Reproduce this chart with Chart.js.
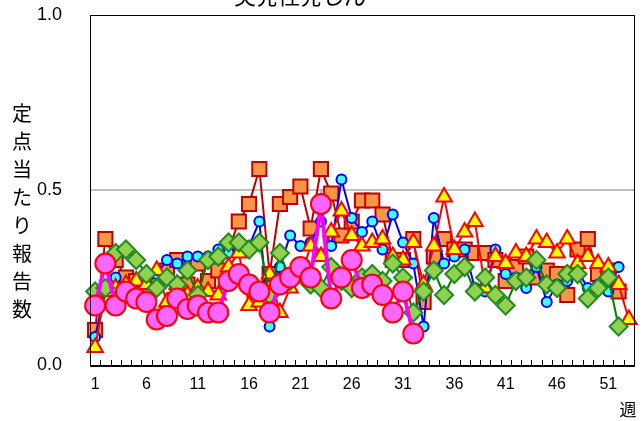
<!DOCTYPE html>
<html lang="ja">
<head>
<meta charset="UTF-8" />
<title>突発性発しん</title>
<style>
  html, body { margin: 0; padding: 0; background: #fff; overflow: hidden; }
  .wrap { position: relative; width: 642px; height: 421px; }
</style>
</head>
<body>
<div class="wrap">
  <canvas id="chart" role="img" aria-label="突発性発しん 定点当たり報告数"></canvas>
</div>

<script src="https://cdn.jsdelivr.net/npm/chart.js"></script>
<script>
  // 週（カテゴリ）
  const weeks = ['1','2','3','4','5','6','7','8','9','10','11','12','13','14','15','16','17','18',
    '19','20','21','22','23','24','25','26','27','28','29','30','31','32','33','34','35','36',
    '37','38','39','40','41','42','43','44','45','46','47','48','49','50','51','52','53'];
  const shownWeeks = ['1','6','11','16','21','26','31','36','41','46','51'];
  const yTicks = [0, 0.5, 1.0];

  // 各年の定点当たり報告数
  const seriesBlue = [0.08,0.22,0.25,0.22,0.21,0.23,0.26,0.30,0.29,0.31,0.31,0.31,0.33,0.32,0.33,0.34,
    0.41,0.11,0.28,0.37,0.34,0.35,0.41,0.34,0.53,0.42,0.38,0.41,0.33,0.43,0.35,0.29,0.11,0.42,
    0.29,0.31,0.33,0.22,0.21,0.33,0.26,0.25,0.22,0.28,0.18,0.23,0.24,0.27,0.22,0.23,0.21,0.28];
  const seriesOrange = [0.10,0.36,0.30,0.25,0.24,0.22,0.25,0.27,0.30,0.23,0.29,0.24,0.27,0.33,0.41,0.46,
    0.56,0.26,0.46,0.48,0.51,0.39,0.56,0.49,0.37,0.41,0.47,0.47,0.43,0.30,0.30,0.36,0.18,0.31,
    0.36,0.33,0.33,0.32,0.32,0.30,0.24,0.28,0.31,0.25,0.27,0.26,0.20,0.33,0.36,0.26,0.27,0.21];
  const seriesYellow = [0.05,0.21,0.22,0.23,0.24,0.23,0.27,0.18,0.23,0.20,0.22,0.21,0.20,0.28,0.32,0.17,
    0.18,0.26,0.15,0.22,0.25,0.34,0.31,0.38,0.44,0.37,0.34,0.35,0.36,0.31,0.30,0.35,0.23,0.34,
    0.48,0.33,0.38,0.41,0.22,0.31,0.29,0.32,0.31,0.36,0.35,0.32,0.36,0.29,0.31,0.29,0.28,0.23,0.13];
  const seriesGreen = [0.21,0.22,0.32,0.33,0.30,0.26,0.22,0.25,0.23,0.27,0.20,0.30,0.31,0.35,0.35,0.33,
    0.35,0.20,0.32,0.24,0.26,0.23,0.22,0.28,0.24,0.22,0.25,0.26,0.24,0.29,0.25,0.15,0.21,0.27,
    0.20,0.26,0.28,0.21,0.25,0.20,0.17,0.24,0.25,0.30,0.23,0.22,0.26,0.26,0.19,0.22,0.25,0.11];
  const seriesMagenta = [0.17,0.29,0.17,0.21,0.19,0.18,0.13,0.14,0.19,0.16,0.17,0.15,0.15,0.24,0.26,0.23,
    0.21,0.15,0.23,0.25,0.28,0.25,0.46,0.19,0.25,0.30,0.22,0.23,0.20,0.15,0.21,0.09];

  const titleText = '突発性発しん';
  const yTitle = '定点当たり報告数';

  // 枠・内向き目盛・タイトルなど
  const decorations = {
    id: 'decorations',
    beforeDatasetsDraw(chart) {
      const { ctx, chartArea: a, scales: { x } } = chart;
      ctx.save();
      ctx.strokeStyle = '#000';
      ctx.lineWidth = 1;
      // 週の区切り目盛（内向き）
      const step = (a.right - a.left) / weeks.length;
      ctx.beginPath();
      for (let i = 1; i < weeks.length; i++) {
        const px = Math.round(x.getPixelForValue(i) - step / 2) + 0.5;
        ctx.moveTo(px, a.bottom);
        ctx.lineTo(px, a.bottom - 5);
      }
      ctx.stroke();
      ctx.restore();
    },
    afterDraw(chart) {
      const { ctx, chartArea: a } = chart;
      ctx.save();
      ctx.strokeStyle = '#000';
      ctx.lineWidth = 1;
      ctx.strokeRect(Math.round(a.left) + 0.5, Math.round(a.top) + 0.5,
        Math.round(a.right - a.left), Math.round(a.bottom - a.top));
      ctx.lineWidth = 2;
      ctx.beginPath();
      ctx.moveTo(a.left, Math.round(a.bottom) + 1);
      ctx.lineTo(a.right + 1, Math.round(a.bottom) + 1);
      ctx.stroke();

      ctx.fillStyle = '#000';
      ctx.textAlign = 'center';
      ctx.textBaseline = 'middle';
      ctx.font = '22px "Noto Sans CJK JP"';
      ctx.fillText(titleText, 300, -4);

      ctx.font = '20px "Noto Sans CJK JP"';
      [...yTitle].forEach((ch, i) => ctx.fillText(ch, 22, 113 + i * 28));

      ctx.font = '17px "Noto Sans CJK JP"';
      ctx.fillText('週', 628, 410);
      ctx.restore();
    }
  };

  const common = { borderWidth: 2, pointBorderWidth: 2, fill: false, tension: 0, spanGaps: false };

  new Chart(document.getElementById('chart'), {
    type: 'line',
    data: {
      labels: weeks,
      datasets: [
        { ...common, label: 'magenta', data: seriesMagenta, borderColor: '#FF00FF', borderWidth: 4,
          pointStyle: 'circle', pointRadius: 10, pointBackgroundColor: '#FF66FF', pointBorderColor: '#FF0000' },
        { ...common, label: 'green', data: seriesGreen, borderColor: '#008000',
          pointStyle: 'rectRot', pointRadius: 9, pointBackgroundColor: '#92D050', pointBorderColor: '#228B22' },
        { ...common, label: 'yellow', data: seriesYellow, borderColor: '#FF0000',
          pointStyle: 'triangle', pointRadius: 9, pointBackgroundColor: '#FFFF00', pointBorderColor: '#FF0000' },
        { ...common, label: 'blue', data: seriesBlue, borderColor: '#0000FF',
          pointStyle: 'circle', pointRadius: 5, pointBackgroundColor: '#40FFFF', pointBorderColor: '#0000FF' },
        { ...common, label: 'orange', data: seriesOrange, borderColor: '#C00000',
          pointStyle: 'rect', pointRadius: 10, pointBackgroundColor: '#F79646', pointBorderColor: '#C00000' }
      ]
    },
    options: {
      responsive: true,
      maintainAspectRatio: false,
      animation: false,
      layout: { autoPadding: false, padding: { top: 15, right: 8, left: 0, bottom: 0 } },
      plugins: { legend: { display: false }, tooltip: { enabled: false }, title: { display: false } },
      scales: {
        x: {
          offset: true,
          grid: { display: false, drawTicks: false },
          border: { display: false },
          ticks: {
            autoSkip: false, maxRotation: 0, padding: 10, color: '#000',
            font: { family: '"Liberation Sans", Arial', size: 16 },
            callback(v) { const l = weeks[v]; return shownWeeks.includes(l) ? l : ''; }
          },
          afterFit(s) { s.height = 56; s.paddingLeft = 0; s.paddingRight = 0; }
        },
        y: {
          min: 0, max: 1,
          afterBuildTicks(s) { s.ticks = yTicks.map(v => ({ value: v })); },
          grid: {
            drawTicks: false, lineWidth: 2,
            color: c => (c.tick && c.tick.value === 0.5 ? '#C0C0C0' : 'rgba(0,0,0,0)')
          },
          border: { display: false },
          ticks: {
            padding: 28, color: '#000',
            font: { family: '"Liberation Sans", Arial', size: 18 },
            callback: v => v.toFixed(1)
          },
          afterFit(s) { s.width = 90; s.paddingTop = 0; s.paddingBottom = 0; }
        }
      }
    },
    plugins: [decorations]
  });
</script>
</body>
</html>
